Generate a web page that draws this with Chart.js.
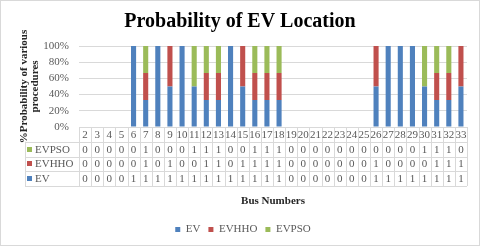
<!DOCTYPE html>
<html>
<head>
<meta charset="utf-8">
<script src="https://cdn.jsdelivr.net/npm/chart.js@4/dist/chart.umd.min.js"></script>
<style>
  html, body { margin: 0; padding: 0; background: #fff; }
  #wrap { position: relative; width: 480px; height: 246px; }
</style>
</head>
<body>
<div id="wrap"><canvas id="evChart"></canvas></div>
<script>
// Bus numbers along the x axis
const busNumbers = ['2','3','4','5','6','7','8','9','10','11','12','13','14','15','16','17',
                    '18','19','20','21','22','23','24','25','26','27','28','29','30','31','32','33'];

// 0/1 flags per bus, as listed in the data table
const ev    = [0,0,0,0,1,1,1,1,1,1,1,1,1,1,1,1,1,0,0,0,0,0,0,0,1,1,1,1,1,1,1,1];
const evhho = [0,0,0,0,0,1,0,1,0,0,1,1,0,1,1,1,1,0,0,0,0,0,0,0,1,0,0,0,0,1,1,1];
const evpso = [0,0,0,0,0,1,0,0,0,1,1,1,0,0,1,1,1,0,0,0,0,0,0,0,0,0,0,0,1,1,1,0];

const seriesNames = ['EV', 'EVHHO', 'EVPSO'];
const seriesColors = ['#4F81BD', '#C0504D', '#9BBB59'];
const yTicks = [0, 20, 40, 60, 80, 100];

const SERIF = '"Liberation Serif", "Times New Roman", serif';
const GRID = '#d9d9d9';
const TEXT = '#595959';

// 100% stacked: share of each flag within its bus
function toPercent(arr) {
    return arr.map((v, i) => {
        const sum = ev[i] + evhho[i] + evpso[i];
        return sum ? v / sum * 100 : 0;
    });
}

const allSeries = [ev, evhho, evpso];

// title and legend sit a little right of the default centre
const nudgeBoxes = {
    id: 'nudgeBoxes',
    afterLayout(chart) {
        const t = chart.titleBlock, l = chart.legend;
        if (t) { t.left += 6.5; t.right += 6.5; }
        if (l) { l.left += 9.5; l.right += 9.5; }
    }
};

// data table under the plot (rows drawn top-down: EVPSO, EVHHO, EV)
const dataTable = {
    id: 'dataTable',
    afterDraw(chart) {
        const ctx = chart.ctx;
        const xs = chart.scales.x;
        const area = chart.chartArea;
        const n = busNumbers.length;
        const left = area.left, right = area.right;
        const w = (right - left) / n;
        const rowH = 14.75;
        const top = area.bottom;
        const tableLeft = 25;

        ctx.save();
        ctx.strokeStyle = GRID;
        ctx.lineWidth = 1;
        ctx.beginPath();
        for (let r = 0; r <= 4; r++) {
            const y = Math.round(top + r * rowH) + 0.5;
            ctx.moveTo(r === 0 ? left : tableLeft, y);
            ctx.lineTo(right, y);
        }
        for (let i = 0; i <= n; i++) {
            const x = Math.round(left + i * w) + 0.5;
            ctx.moveTo(x, top);
            ctx.lineTo(x, top + 4 * rowH);
        }
        const lx = tableLeft + 0.5;
        ctx.moveTo(lx, top + rowH);
        ctx.lineTo(lx, top + 4 * rowH);
        ctx.stroke();

        ctx.font = '11px ' + SERIF;
        ctx.fillStyle = TEXT;
        ctx.textAlign = 'center';
        ctx.textBaseline = 'middle';
        busNumbers.forEach((b, i) => {
            ctx.fillText(b, xs.getPixelForValue(i), top + rowH / 2 + 0.5);
        });

        [2, 1, 0].forEach((s, r) => {
            const yMid = top + (r + 1.5) * rowH + 0.5;
            ctx.fillStyle = seriesColors[s];
            ctx.fillRect(27, Math.round(yMid) - 3, 5, 5);
            ctx.fillStyle = TEXT;
            ctx.textAlign = 'left';
            ctx.fillText(seriesNames[s], 35, yMid);
            ctx.textAlign = 'center';
            allSeries[s].forEach((v, i) => {
                ctx.fillText(String(v), xs.getPixelForValue(i), yMid);
            });
        });

        // outer chart border
        ctx.strokeStyle = '#d9d9d9';
        ctx.strokeRect(0.5, 0.5, chart.width - 1, chart.height - 1);
        ctx.restore();
    }
};

new Chart(document.getElementById('evChart'), {
    type: 'bar',
    data: {
        labels: busNumbers,
        datasets: allSeries.map((arr, s) => ({
            label: seriesNames[s],
            data: toPercent(arr),
            backgroundColor: seriesColors[s],
            barPercentage: 0.42,
            categoryPercentage: 1
        }))
    },
    options: {
        responsive: true,
        maintainAspectRatio: false,
        animation: false,
        layout: { padding: { left: 0, right: 13, top: 0, bottom: 1 } },
        plugins: {
            title: {
                display: true,
                text: 'Probability of EV Location',
                color: '#000',
                font: { family: SERIF, size: 20, weight: 'bold' },
                padding: { top: 10, bottom: 12 }
            },
            legend: {
                position: 'bottom',
                labels: {
                    color: TEXT,
                    boxWidth: 5,
                    boxHeight: 5,
                    padding: 8,
                    font: { family: SERIF, size: 11 }
                }
            },
            tooltip: { enabled: false }
        },
        scales: {
            x: {
                stacked: true,
                grid: { display: false },
                border: { display: false },
                ticks: { display: false },
                title: {
                    display: true,
                    text: 'Bus Numbers',
                    color: '#262626',
                    font: { family: SERIF, size: 11, weight: 'bold' },
                    padding: { top: 0, bottom: 8 }
                },
                afterFit(scale) { scale.height = 89; }
            },
            y: {
                stacked: true,
                min: 0,
                max: 100,
                afterBuildTicks(scale) { scale.ticks = yTicks.map(v => ({ value: v })); },
                grid: { color: GRID, drawTicks: false },
                border: { display: false },
                ticks: {
                    color: TEXT,
                    padding: 10,
                    font: { family: SERIF, size: 11 },
                    callback: v => v + '%'
                },
                title: {
                    display: true,
                    text: ['%Probability of various', 'procedures'],
                    color: '#262626',
                    font: { family: SERIF, size: 11, weight: 'bold', lineHeight: 1.05 },
                    padding: { top: 18, bottom: 0 }
                },
                afterFit(scale) { scale.width = 79; }
            }
        }
    },
    plugins: [nudgeBoxes, dataTable]
});
</script>
</body>
</html>
